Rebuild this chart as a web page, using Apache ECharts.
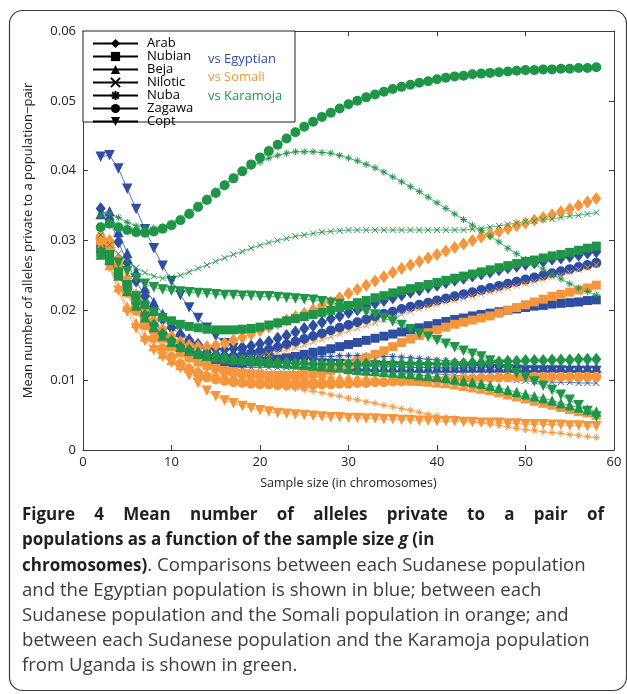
<!DOCTYPE html>
<html>
<head>
<meta charset="utf-8">
<script src="https://cdn.jsdelivr.net/npm/echarts@6/dist/echarts.min.js"></script>
<style>
html, body { margin: 0; padding: 0; background: #fff; }
#chart { width: 627px; height: 694px; }
</style>
</head>
<body>
<div id="chart"></div>
<script>
// sample size g (chromosomes)
const sizes = [2,3,4,5,6,7,8,9,10,11,12,13,14,15,16,17,18,19,20,21,22,23,24,25,26,27,28,29,30,
  31,32,33,34,35,36,37,38,39,40,41,42,43,44,45,46,47,48,49,50,51,52,53,54,55,56,57,58];

const populations = ['Arab', 'Nubian', 'Beja', 'Nilotic', 'Nuba', 'Zagawa', 'Copt'];
const xTicks = [0, 10, 20, 30, 40, 50, 60];
const yTicks = [0, 0.01, 0.02, 0.03, 0.04, 0.05, 0.06];

// vs Egyptian (blue)
const egyArab = [.0346,.0330,.0298,.0268,.0242,.0220,.0202,.0187,.0175,.0165,
  .0157,.0151,.0147,.0145,.0144,.0145,.0147,.0149,.0152,.0155,
  .0160,.0164,.0169,.0174,.0178,.0183,.0188,.0192,.0197,.0201,
  .0205,.0210,.0214,.0218,.0222,.0226,.0229,.0233,.0236,.0240,
  .0243,.0246,.0249,.0252,.0255,.0258,.0261,.0263,.0266,.0268,
  .0270,.0273,.0275,.0277,.0279,.0282,.0284];
const egyNubian = [.0290,.0280,.0253,.0228,.0206,.0188,.0173,.0161,.0151,.0143,
  .0137,.0132,.0128,.0126,.0125,.0125,.0125,.0126,.0127,.0128,
  .0130,.0132,.0134,.0137,.0140,.0142,.0145,.0148,.0151,.0154,
  .0157,.0160,.0163,.0166,.0169,.0172,.0175,.0178,.0181,.0184,
  .0187,.0189,.0192,.0194,.0196,.0198,.0200,.0202,.0204,.0206,
  .0207,.0209,.0210,.0211,.0212,.0214,.0215];
const egyBeja = [.0338,.0342,.0312,.0282,.0255,.0232,.0212,.0195,.0181,.0169,
  .0160,.0152,.0146,.0141,.0137,.0134,.0132,.0130,.0128,.0127,
  .0126,.0125,.0124,.0123,.0122,.0122,.0121,.0121,.0120,.0120,
  .0120,.0119,.0119,.0119,.0119,.0118,.0118,.0118,.0118,.0118,
  .0118,.0118,.0118,.0118,.0118,.0118,.0118,.0118,.0118,.0118,
  .0118,.0118,.0118,.0118,.0118,.0118,.0118];
const egyNilotic = [.0300,.0288,.0258,.0232,.0209,.0190,.0174,.0161,.0150,.0141,
  .0134,.0129,.0125,.0122,.0120,.0119,.0118,.0118,.0118,.0118,
  .0118,.0118,.0118,.0118,.0118,.0117,.0117,.0117,.0116,.0116,
  .0115,.0115,.0114,.0113,.0113,.0112,.0111,.0110,.0109,.0108,
  .0107,.0106,.0105,.0104,.0103,.0102,.0101,.0100,.0099,.0098,
  .0098,.0097,.0097,.0097,.0096,.0096,.0096];
const egyNuba = [.0298,.0285,.0256,.0230,.0208,.0189,.0173,.0160,.0150,.0142,
  .0136,.0131,.0128,.0126,.0125,.0125,.0125,.0126,.0127,.0128,
  .0129,.0130,.0131,.0132,.0133,.0134,.0134,.0135,.0135,.0135,
  .0135,.0135,.0134,.0134,.0133,.0132,.0131,.0130,.0129,.0128,
  .0127,.0126,.0125,.0124,.0123,.0122,.0121,.0120,.0119,.0118,
  .0117,.0116,.0115,.0114,.0113,.0112,.0111];
const egyZagawa = [.0302,.0290,.0262,.0236,.0213,.0194,.0178,.0165,.0155,.0147,
  .0141,.0137,.0134,.0133,.0133,.0134,.0136,.0138,.0141,.0144,
  .0147,.0151,.0155,.0159,.0163,.0167,.0171,.0175,.0179,.0183,
  .0187,.0191,.0195,.0198,.0202,.0205,.0208,.0211,.0214,.0217,
  .0220,.0223,.0226,.0229,.0232,.0235,.0238,.0241,.0244,.0247,
  .0250,.0253,.0256,.0259,.0262,.0265,.0268];
const egyCopt = [.0420,.0422,.0403,.0374,.0345,.0316,.0289,.0264,.0242,.0222,
  .0204,.0189,.0175,.0163,.0153,.0146,.0140,.0136,.0133,.0131,
  .0129,.0128,.0127,.0126,.0125,.0124,.0123,.0123,.0122,.0122,
  .0121,.0121,.0120,.0120,.0119,.0119,.0118,.0118,.0117,.0117,
  .0117,.0116,.0116,.0116,.0115,.0115,.0115,.0115,.0114,.0114,
  .0114,.0114,.0114,.0113,.0113,.0113,.0113];

// vs Somali (orange)
const somArab = [.0298,.0300,.0272,.0246,.0222,.0202,.0186,.0173,.0163,.0155,
  .0150,.0148,.0148,.0150,.0153,.0157,.0161,.0166,.0171,.0176,
  .0181,.0186,.0191,.0196,.0201,.0207,.0212,.0218,.0224,.0230,
  .0236,.0242,.0248,.0254,.0260,.0265,.0270,.0275,.0280,.0285,
  .0290,.0295,.0300,.0305,.0309,.0313,.0317,.0321,.0325,.0329,
  .0333,.0337,.0341,.0345,.0350,.0355,.0360];
const somNubian = [.0300,.0292,.0263,.0235,.0210,.0190,.0173,.0160,.0148,.0139,
  .0132,.0126,.0121,.0117,.0114,.0112,.0110,.0109,.0108,.0107,
  .0107,.0107,.0107,.0108,.0109,.0111,.0114,.0118,.0122,.0127,
  .0132,.0137,.0142,.0148,.0154,.0159,.0164,.0168,.0172,.0176,
  .0180,.0183,.0186,.0189,.0192,.0196,.0200,.0204,.0208,.0212,
  .0216,.0220,.0223,.0226,.0229,.0232,.0236];
const somBeja = [.0292,.0265,.0233,.0205,.0182,.0163,.0149,.0138,.0129,.0122,
  .0117,.0113,.0110,.0108,.0107,.0106,.0105,.0105,.0104,.0104,
  .0104,.0104,.0104,.0104,.0104,.0104,.0104,.0103,.0103,.0103,
  .0103,.0102,.0102,.0101,.0101,.0100,.0099,.0098,.0097,.0096,
  .0094,.0092,.0090,.0088,.0086,.0083,.0080,.0077,.0074,.0071,
  .0068,.0065,.0062,.0059,.0056,.0054,.0051];
const somNilotic = [.0293,.0285,.0255,.0228,.0205,.0186,.0171,.0159,.0150,.0143,
  .0138,.0134,.0132,.0131,.0130,.0130,.0131,.0132,.0134,.0137,
  .0140,.0143,.0146,.0150,.0154,.0158,.0162,.0166,.0170,.0174,
  .0178,.0182,.0186,.0190,.0194,.0198,.0202,.0205,.0208,.0211,
  .0214,.0217,.0220,.0223,.0226,.0229,.0232,.0235,.0238,.0241,
  .0244,.0247,.0250,.0254,.0258,.0261,.0265];
const somNuba = [.0290,.0280,.0250,.0224,.0200,.0180,.0163,.0149,.0137,.0128,
  .0121,.0115,.0110,.0106,.0103,.0100,.0098,.0096,.0094,.0092,
  .0090,.0089,.0088,.0086,.0084,.0082,.0079,.0077,.0074,.0072,
  .0069,.0067,.0064,.0062,.0059,.0057,.0054,.0051,.0049,.0047,
  .0045,.0043,.0041,.0039,.0037,.0035,.0033,.0031,.0029,.0028,
  .0026,.0025,.0024,.0022,.0021,.0019,.0018];
const somZagawa = [.0305,.0290,.0255,.0225,.0199,.0178,.0160,.0145,.0133,.0123,
  .0115,.0109,.0104,.0101,.0099,.0097,.0096,.0095,.0094,.0094,
  .0093,.0093,.0093,.0093,.0093,.0094,.0094,.0095,.0095,.0096,
  .0096,.0097,.0097,.0098,.0098,.0099,.0099,.0100,.0100,.0101,
  .0101,.0102,.0102,.0103,.0103,.0104,.0104,.0104,.0105,.0105,
  .0105,.0105,.0105,.0105,.0105,.0105,.0105];
const somCopt = [.0295,.0262,.0228,.0198,.0174,.0156,.0143,.0133,.0125,.0117,
  .0107,.0096,.0085,.0077,.0071,.0067,.0063,.0060,.0057,.0055,
  .0053,.0052,.0051,.0050,.0049,.0048,.0047,.0047,.0046,.0046,
  .0045,.0045,.0044,.0044,.0043,.0043,.0042,.0042,.0041,.0041,
  .0041,.0040,.0040,.0039,.0039,.0039,.0038,.0038,.0037,.0037,
  .0037,.0036,.0036,.0035,.0035,.0034,.0034];

// vs Karamoja (green)
const karArab = [.0284,.0275,.0253,.0230,.0210,.0193,.0179,.0166,.0156,.0148,
  .0143,.0139,.0136,.0134,.0132,.0130,.0129,.0128,.0127,.0126,
  .0125,.0125,.0124,.0124,.0123,.0123,.0123,.0123,.0123,.0123,
  .0123,.0123,.0123,.0123,.0123,.0123,.0123,.0123,.0123,.0124,
  .0124,.0124,.0125,.0125,.0126,.0126,.0127,.0127,.0128,.0128,
  .0128,.0129,.0129,.0129,.0130,.0130,.0130];
const karNubian = [.0283,.0272,.0255,.0237,.0221,.0208,.0198,.0190,.0185,.0180,
  .0177,.0175,.0173,.0172,.0172,.0172,.0173,.0174,.0176,.0179,
  .0182,.0185,.0188,.0191,.0194,.0197,.0200,.0204,.0207,.0211,
  .0214,.0218,.0221,.0225,.0228,.0231,.0234,.0237,.0240,.0243,
  .0246,.0249,.0252,.0255,.0258,.0261,.0264,.0267,.0270,.0272,
  .0275,.0278,.0280,.0283,.0286,.0289,.0292];
const karBeja = [.0280,.0272,.0250,.0228,.0207,.0190,.0176,.0164,.0155,.0148,
  .0142,.0138,.0135,.0133,.0131,.0130,.0129,.0128,.0127,.0126,
  .0125,.0124,.0123,.0122,.0121,.0120,.0119,.0118,.0116,.0115,
  .0114,.0113,.0112,.0111,.0110,.0109,.0107,.0106,.0105,.0103,
  .0101,.0099,.0097,.0095,.0092,.0089,.0086,.0083,.0080,.0077,
  .0074,.0071,.0067,.0064,.0061,.0058,.0055];
const karNilotic = [.0308,.0294,.0281,.0270,.0261,.0254,.0249,.0246,.0247,.0250,
  .0255,.0260,.0265,.0270,.0275,.0280,.0284,.0289,.0293,.0297,
  .0300,.0303,.0306,.0308,.0310,.0312,.0313,.0314,.0315,.0315,
  .0315,.0315,.0315,.0315,.0315,.0315,.0315,.0315,.0315,.0315,
  .0315,.0315,.0316,.0317,.0319,.0321,.0323,.0325,.0327,.0328,
  .0330,.0331,.0333,.0335,.0336,.0338,.0340];
const karNuba = [.0335,.0339,.0333,.0326,.0321,.0318,.0318,.0320,.0325,.0332,
  .0341,.0351,.0361,.0371,.0381,.0390,.0399,.0406,.0412,.0418,
  .0422,.0425,.0427,.0427,.0427,.0426,.0425,.0422,.0418,.0414,
  .0409,.0404,.0398,.0391,.0384,.0377,.0370,.0362,.0354,.0346,
  .0338,.0330,.0322,.0314,.0306,.0298,.0289,.0281,.0273,.0266,
  .0259,.0252,.0245,.0238,.0232,.0227,.0222];
const karZagawa = [.0319,.0324,.0319,.0315,.0312,.0311,.0313,.0317,.0322,.0329,
  .0338,.0348,.0358,.0368,.0379,.0389,.0399,.0409,.0419,.0428,
  .0437,.0446,.0455,.0463,.0470,.0477,.0483,.0489,.0495,.0500,
  .0505,.0509,.0513,.0517,.0520,.0523,.0526,.0528,.0531,.0533,
  .0535,.0536,.0538,.0539,.0540,.0541,.0542,.0543,.0544,.0544,
  .0545,.0545,.0546,.0546,.0547,.0547,.0548];
const karCopt = [.0282,.0279,.0268,.0256,.0246,.0238,.0233,.0230,.0228,.0227,
  .0226,.0225,.0224,.0223,.0222,.0222,.0221,.0221,.0220,.0220,
  .0219,.0218,.0217,.0216,.0215,.0213,.0211,.0209,.0206,.0202,
  .0198,.0194,.0189,.0184,.0179,.0173,.0167,.0162,.0157,.0152,
  .0147,.0142,.0138,.0134,.0128,.0122,.0116,.0110,.0104,.0098,
  .0092,.0086,.0079,.0072,.0064,.0056,.0048];

const FONT = '"Open Sans", "DejaVu Sans", sans-serif';
const AXIS = '#3a3a3a';

const comparisons = [
  { label: 'vs Egyptian', color: '#2f4ea2', rows: [egyArab, egyNubian, egyBeja, egyNilotic, egyNuba, egyZagawa, egyCopt] },
  { label: 'vs Somali', color: '#f6963c', rows: [somArab, somNubian, somBeja, somNilotic, somNuba, somZagawa, somCopt] },
  { label: 'vs Karamoja', color: '#1f9548', rows: [karArab, karNubian, karBeja, karNilotic, karNuba, karZagawa, karCopt] }
];

// matlab-like markers
const crossPath = 'path://M0,0L10,10M10,0L0,10';
const starPath = 'path://M5,0L5,10M0,5L10,5M1.5,1.5L8.5,8.5M8.5,1.5L1.5,8.5';
const markers = [
  { symbol: 'diamond', size: [10, 13], rotate: 0, stroke: false },
  { symbol: 'rect', size: 9, rotate: 0, stroke: false },
  { symbol: 'triangle', size: 10.5, rotate: 0, stroke: false },
  { symbol: crossPath, size: 6, rotate: 0, stroke: true },
  { symbol: starPath, size: 7, rotate: 0, stroke: true },
  { symbol: 'circle', size: 10, rotate: 0, stroke: false },
  { symbol: 'triangle', size: 10.5, rotate: 180, stroke: false }
];

function lineSeries(name, color, values, m, legendOnly) {
  return {
    name: name,
    type: 'line',
    data: legendOnly ? [] : sizes.map((s, i) => [s, values[i]]),
    symbol: m.symbol,
    symbolSize: m.size,
    symbolRotate: m.rotate,
    showAllSymbol: true,
    silent: true,
    lineStyle: { color: color, width: legendOnly ? 1 : 0.8 },
    itemStyle: m.stroke
      ? { color: color, borderColor: color, borderWidth: 1 }
      : { color: color, borderWidth: 0 }
  };
}

const series = [];
populations.forEach((p, k) => series.push(lineSeries(p, '#000', null, markers[k], true)));
comparisons.forEach(c => {
  c.rows.forEach((vals, k) => {
    series.push(lineSeries(populations[k] + ' ' + c.label, c.color, vals, markers[k], false));
  });
});

const chart = echarts.init(document.getElementById('chart'));

const baseX = {
  type: 'value', min: xTicks[0], max: xTicks[xTicks.length - 1], interval: 10,
  axisLine: { onZero: false, lineStyle: { color: AXIS, width: 1 } },
  axisTick: { inside: true, length: 5, lineStyle: { color: AXIS } },
  splitLine: { show: false }
};
const baseY = {
  type: 'value', min: yTicks[0], max: yTicks[yTicks.length - 1], interval: 0.01,
  axisLine: { onZero: false, lineStyle: { color: AXIS, width: 1 } },
  axisTick: { inside: true, length: 5, lineStyle: { color: AXIS } },
  splitLine: { show: false }
};

// caption
const capY = [515, 540, 566, 591, 616, 641, 666];
const boldFont = 'bold 17px ' + FONT;
const titleWords = ['Figure', '4', 'Mean', 'number', 'of', 'alleles', 'private', 'to', 'a', 'pair', 'of'];
const measure = document.createElement('canvas').getContext('2d');
measure.font = boldFont;
const wordW = titleWords.map(w => measure.measureText(w).width);
const capLeft = 22, capRight = 604;
const gap = (capRight - capLeft - wordW.reduce((a, b) => a + b, 0)) / (titleWords.length - 1);

const graphics = [
  { type: 'rect', shape: { x: 9.5, y: 10.5, width: 617, height: 680, r: 13 },
    style: { fill: 'none', stroke: '#3c3c3c', lineWidth: 1.2 }, z: 1 },
  { type: 'rect', shape: { x: 83, y: 31, width: 212, height: 91 },
    style: { fill: '#fff', stroke: '#222', lineWidth: 1 }, z: 50 }
];
comparisons.forEach((c, i) => graphics.push({
  type: 'text', x: 208, y: [59, 77, 96][i], z: 60,
  style: { text: c.label, fill: c.color, font: '13px ' + FONT, verticalAlign: 'middle' }
}));
let wx = capLeft;
titleWords.forEach((w, i) => {
  graphics.push({
    type: 'text', x: wx, y: capY[0], z: 60,
    style: { text: w, fill: '#231f20', font: boldFont, verticalAlign: 'middle' }
  });
  wx += wordW[i] + gap;
});
const bodyRich = {
  b: { fontWeight: 'bold', fontSize: 17, fontFamily: FONT, fill: '#231f20' },
  bi: { fontWeight: 'bold', fontStyle: 'italic', fontSize: 17, fontFamily: FONT, fill: '#231f20' },
  n: { fontSize: 18.6, fontFamily: FONT, fill: '#3d3d3d' }
};
const bodyLines = [
  '{b|populations as a function of the sample size }{bi|g}{b| (in}',
  '{b|chromosomes)}{n|. Comparisons between each Sudanese population}',
  '{n|and the Egyptian population is shown in blue; between each}',
  '{n|Sudanese population and the Somali population in orange; and}',
  '{n|between each Sudanese population and the Karamoja population}',
  '{n|from Uganda is shown in green.}'
];
bodyLines.forEach((t, i) => graphics.push({
  type: 'text', x: capLeft, y: capY[i + 1], z: 60,
  style: { text: t, rich: bodyRich, verticalAlign: 'middle', font: '17px ' + FONT }
}));

chart.setOption({
  animation: false,
  backgroundColor: '#fff',
  grid: { left: 83, right: 13, top: 31, bottom: 244, containLabel: false },
  xAxis: [
    Object.assign({}, baseX, {
      position: 'bottom',
      axisLabel: { fontSize: 13, color: '#222', margin: 6, fontFamily: FONT },
      name: 'Sample size (in chromosomes)', nameLocation: 'middle', nameGap: 27,
      nameTextStyle: { fontSize: 12.5, color: '#222', fontFamily: FONT }
    }),
    Object.assign({}, baseX, { position: 'top', axisLabel: { show: false } })
  ],
  yAxis: [
    Object.assign({}, baseY, {
      position: 'left',
      axisLabel: { fontSize: 13, color: '#222', margin: 7, fontFamily: FONT,
        formatter: v => (v === 0 ? '0' : v.toFixed(2)) },
      name: 'Mean number of alleles private to a population\u2212pair', nameLocation: 'middle', nameGap: 48,
      nameTextStyle: { fontSize: 13, color: '#222', fontFamily: FONT }
    }),
    Object.assign({}, baseY, { position: 'right', axisLabel: { show: false } })
  ],
  legend: {
    data: populations,
    orient: 'vertical',
    left: 83, top: 31,
    padding: [6, 0, 4, 9],
    itemWidth: 45, itemHeight: 11.5, itemGap: 0,
    selectedMode: false,
    z: 70,
    textStyle: { fontSize: 13, color: '#000', fontFamily: FONT, lineHeight: 11.5, padding: [0, 0, 0, 4] }
  },
  graphic: { elements: graphics },
  series: series
});
</script>
</body>
</html>
